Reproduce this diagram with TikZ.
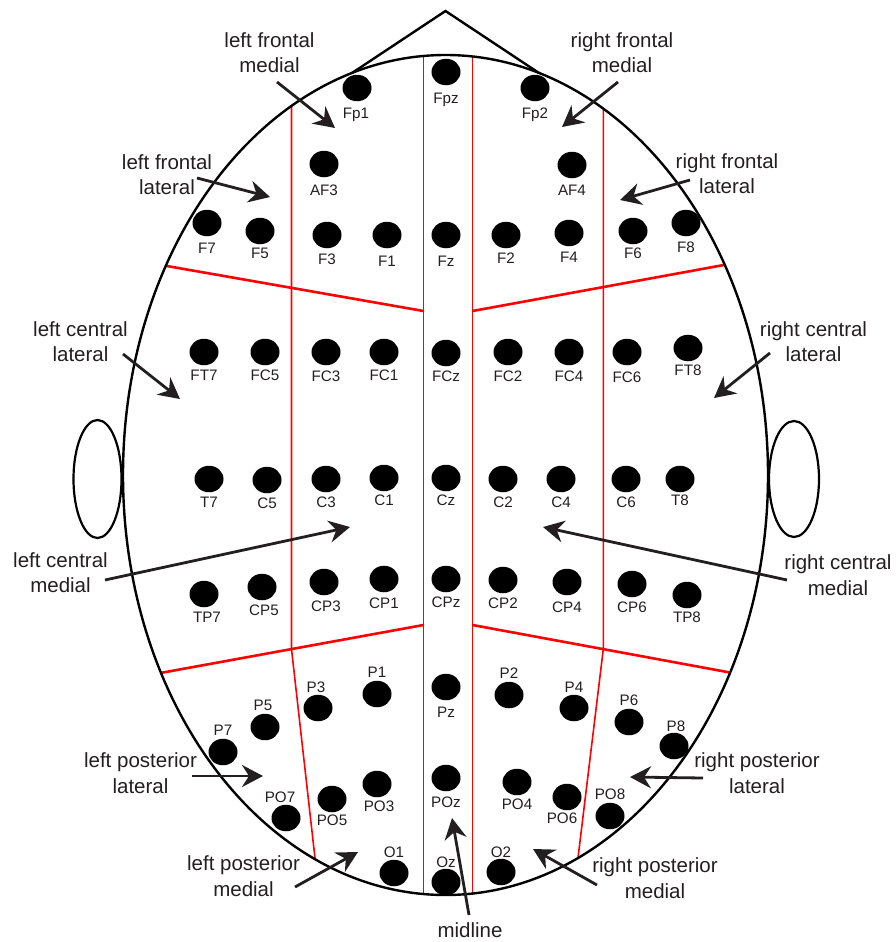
\documentclass[tikz,border=0pt]{standalone}
\usepackage{fontspec}
\setmainfont{Liberation Sans}
\usetikzlibrary{shapes.geometric,arrows.meta}
\definecolor{ink}{HTML}{231F20}
\begin{document}
\begin{tikzpicture}[x=1pt,y=-1pt,
  dot/.style={ellipse,fill=black,draw=none,minimum width=29pt,minimum height=26.5pt,inner sep=0pt},
  lbl/.style={font=\fontsize{15.2}{15}\selectfont,text=ink,inner sep=0pt,text height=10.9pt,text depth=0pt},
  note/.style={font=\fontsize{20.5}{25.5}\selectfont,text=ink,align=center,inner sep=0pt},
  arr/.style={draw=ink,line width=2.8pt,-{Stealth[length=21pt,width=22pt,inset=7pt]}},
  outline/.style={draw=black,line width=2.4pt},
  region/.style={draw=red,line width=1.6pt},
  regionb/.style={draw=red,line width=2.6pt}]
\useasboundingbox (0,0) rectangle (895,942);

% region boundaries
\begin{scope}
\clip (445.5,475) ellipse [x radius=322.5pt, y radius=420pt];
\draw[region] (423.5,40) -- (423.5,910);
\draw[region] (472.5,40) -- (472.5,910);
\draw[region] (291.5,80) -- (291.5,649) -- (319.7,900);
\draw[region] (603.3,80) -- (603.3,649) -- (572.9,900);
\draw[regionb] (140,261.3) -- (423.5,311);
\draw[regionb] (472.5,311) -- (750,260.2);
\draw[regionb] (140,676.7) -- (423.5,625);
\draw[regionb] (472.5,625) -- (750,676.2);
\end{scope}

% head, nose, ears
\draw[outline] (445.5,475) ellipse [x radius=322.5pt, y radius=420pt];
\coordinate (apex) at (445.5,11);
\coordinate (noseL) at (352,73);
\coordinate (noseR) at (539,73);
\draw[outline,line join=miter] (noseL) -- (apex) -- (noseR);
\draw[outline,line width=2.2pt] (97.5,479) ellipse [x radius=24pt, y radius=59pt];
\draw[outline,line width=2.2pt] (794,479) ellipse [x radius=25pt, y radius=58pt];

% electrodes
\foreach \n/\x/\y/\lx/\ly in {
Fp1/357/88/356/113, Fpz/446/72/446/98, Fp2/535/88/535/113,
AF3/324/164/324/190, AF4/572/165/572/190,
F7/207/223/207/248, F5/260/231/260/253, F3/327/235/327/259, F1/387/235/387/261,
Fz/446/235/446/261, F2/506/235/506/258, F4/569/233/569/257, F6/633/231/633/253, F8/686/223/686/247,
FT7/204/352/204/375, FC5/265/352/265/375, FC3/326/352/326/376, FC1/384/352/384/375,
FCz/446/353/446/376, FC2/508/352/508/376, FC4/569/352/569/376, FC6/627/352/627/377, FT8/688/348/688/370,
T7/209/479/209/502, C5/267/480/267/503, C3/326/479/326/502, C1/384/478/384/500,
Cz/446/478/446/500, C2/503/479/503/502, C4/561/479/561/502, C6/626/479/626/502, T8/680/479/680/500,
TP7/204/594/207/617, CP5/262/587/264/610, CP3/324/582/326/606, CP1/384/579/384/603,
CPz/446/579/446/602, CP2/503/580/503/603, CP4/567/582/567/607, CP6/632/584/632/607, TP8/687/595/687/617,
P7/223/752/223/730, P5/265/727/263/705, P3/318/708/316/687, P1/377/694/377/672,
Pz/446/687/446/712, P2/509/695/509/673, P4/574/708/574/687, P6/629/722/629/700, P8/674/746/676/726,
PO7/286/818/280/797, PO5/332/799/332/820, PO3/377/784/379/806, POz/446/778/446/802,
PO4/517/782/517/804, PO6/567/797/562/818, PO8/610/816/610/794,
O1/394/873/394/852, Oz/446/882/446/862, O2/501/872/501/852}
{
  \node[dot] (\n) at (\x,\y) {};
  \node[lbl] (\n-l) at (\lx,\ly) {\n};
}

% annotations
\node[note] (lfm) at (269.5,52.5) {left frontal\\medial};
\node[note] (lfl) at (167,174.5) {left frontal\\lateral};
\node[note] (rfm) at (622,52.5) {right frontal\\medial};
\node[note] (rfl) at (727,173.5) {right frontal\\lateral};
\node[note] (lcl) at (80.5,341.5) {left central\\lateral};
\node[note] (rcl) at (813.5,341.5) {right central\\lateral};
\node[note] (lcm) at (60.5,572.5) {left central\\medial};
\node[note] (rcm) at (838,575) {right central\\medial};
\node[note] (lpl) at (140.5,773) {left posterior\\lateral};
\node[note] (rpl) at (757,773) {right posterior\\lateral};
\node[note] (lpm) at (243.5,876) {left posterior\\medial};
\node[note] (rpm) at (655,878) {right posterior\\medial};
\node[note] (mid) at (470,930) {midline};

% arrows
\coordinate (lfm-s) at (277,82);  \coordinate (lfm-t) at (335,128);
\coordinate (lfl-s) at (197,178); \coordinate (lfl-t) at (270,197);
\coordinate (rfm-s) at (618,82);  \coordinate (rfm-t) at (562,127);
\coordinate (rfl-s) at (690,180); \coordinate (rfl-t) at (620,200);
\coordinate (lcl-s) at (123,354); \coordinate (lcl-t) at (180,399);
\coordinate (rcl-s) at (770,353); \coordinate (rcl-t) at (714,398);
\coordinate (lcm-s) at (105,580); \coordinate (lcm-t) at (350,527);
\coordinate (rcm-s) at (787,580); \coordinate (rcm-t) at (543,527);
\coordinate (lpl-s) at (192,776); \coordinate (lpl-t) at (263,776);
\coordinate (rpl-s) at (703,778); \coordinate (rpl-t) at (630,777);
\coordinate (lpm-s) at (295,887); \coordinate (lpm-t) at (358,852);
\coordinate (rpm-s) at (597,885); \coordinate (rpm-t) at (533,849);
\coordinate (mid-s) at (469,915); \coordinate (mid-t) at (452,818);
\foreach \a in {lfm,lfl,rfm,rfl,lcl,rcl,lcm,rcm,lpl,rpl,lpm,rpm,mid}
  \draw[arr] (\a-s) -- (\a-t);
\end{tikzpicture}
\end{document}
